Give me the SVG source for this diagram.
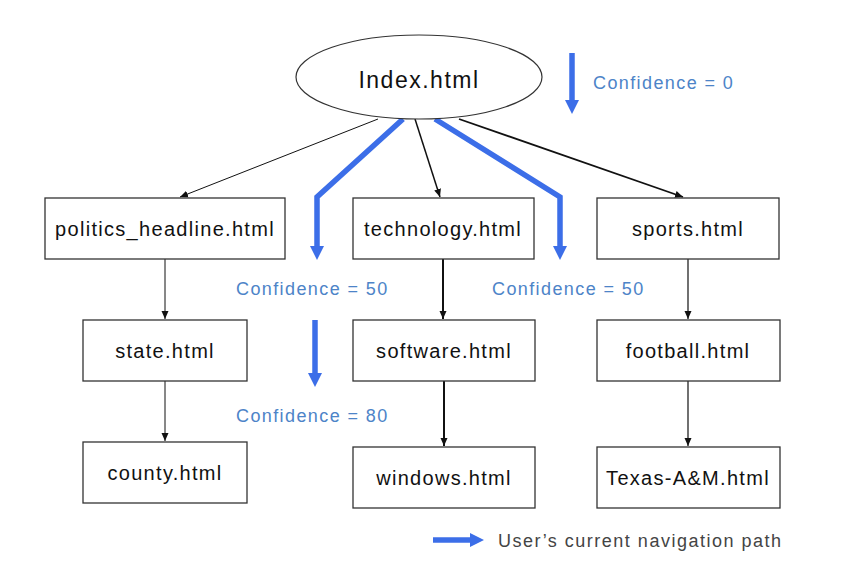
<svg xmlns="http://www.w3.org/2000/svg" width="856" height="573" viewBox="0 0 856 573">
<style>
.box{fill:#fff;stroke:#333;stroke-width:1.3}
.lbl{font-family:"Liberation Sans",Arial,sans-serif;font-size:20px;letter-spacing:1.3px;fill:#111;text-anchor:middle}
.conf{font-family:"Liberation Sans",Arial,sans-serif;font-size:18px;letter-spacing:1.4px;fill:#4d84c8}
.edge{fill:none;stroke:#111;marker-end:url(#ah)}
.blue{fill:none;stroke:#3c6ee8;stroke-width:5.5;marker-end:url(#bh)}
</style>
<defs>
<marker id="ah" markerUnits="userSpaceOnUse" markerWidth="9" markerHeight="8" refX="8" refY="4" orient="auto">
<path d="M0,0.5 L8,4 L0,7.5 z" fill="#111"/>
</marker>
<marker id="bh" markerUnits="userSpaceOnUse" markerWidth="15" markerHeight="14" refX="0" refY="7" orient="auto">
<path d="M0,0 L14,7 L0,14 z" fill="#3c6ee8"/>
</marker>
</defs>
<rect width="856" height="573" fill="#fff"/>
<g id="connectors">
<path class="edge" d="M378,119 L180,197" stroke-width="1"/>
<path class="edge" d="M415,119 L440,197" stroke-width="1.5"/>
<path class="edge" d="M459,119 L683,197" stroke-width="1.8"/>
<path class="edge" d="M165,259 L165,319" stroke-width="1"/>
<path class="edge" d="M165,381 L165,441" stroke-width="1"/>
<path class="edge" d="M443,259 L443,319" stroke-width="2"/>
<path class="edge" d="M444,381 L444,446" stroke-width="2"/>
<path class="edge" d="M688,259 L688,319" stroke-width="1.2"/>
<path class="edge" d="M688,381 L688,446" stroke-width="1.2"/>
<path class="blue" d="M403,119 L317,197 L317,246"/>
<path class="blue" d="M435,119 L560,197 L560,246"/>
<path class="blue" d="M572,53 L572,100"/>
<path class="blue" d="M315,320 L315,373"/>
<path class="blue" d="M433,540 L470,540"/>
</g>
<g id="index">
<ellipse cx="419" cy="77" rx="123" ry="42" fill="#fff" stroke="#333" stroke-width="1.2"/>
<text class="lbl" x="419" y="88" style="font-size:23px;letter-spacing:1.5px">Index.html</text>
</g>
<g id="politics"><rect class="box" x="45" y="198" width="240" height="61"/><text class="lbl" x="165" y="236">politics_headline.html</text></g>
<g id="technology"><rect class="box" x="353" y="198" width="181" height="61"/><text class="lbl" x="443" y="236">technology.html</text></g>
<g id="sports"><rect class="box" x="597" y="198" width="182" height="61"/><text class="lbl" x="688" y="236">sports.html</text></g>
<g id="state"><rect class="box" x="83" y="320" width="164" height="61"/><text class="lbl" x="165" y="358">state.html</text></g>
<g id="software"><rect class="box" x="353" y="320" width="182" height="61"/><text class="lbl" x="444" y="358">software.html</text></g>
<g id="football"><rect class="box" x="597" y="320" width="183" height="61"/><text class="lbl" x="688" y="358">football.html</text></g>
<g id="county"><rect class="box" x="83" y="442" width="164" height="61"/><text class="lbl" x="165" y="480">county.html</text></g>
<g id="windows"><rect class="box" x="353" y="447" width="182" height="61"/><text class="lbl" x="444" y="485">windows.html</text></g>
<g id="texas"><rect class="box" x="597" y="447" width="183" height="61"/><text class="lbl" x="688" y="485">Texas-A&amp;M.html</text></g>
<g id="labels">
<text class="conf" x="593" y="89">Confidence = 0</text>
<text class="conf" x="236" y="295">Confidence = 50</text>
<text class="conf" x="492" y="295">Confidence = 50</text>
<text class="conf" x="236" y="422">Confidence = 80</text>
<text x="498" y="547" style="font-family:'Liberation Sans',Arial,sans-serif;font-size:18px;letter-spacing:1.5px;fill:#444">User’s current navigation path</text>
</g>
</svg>
